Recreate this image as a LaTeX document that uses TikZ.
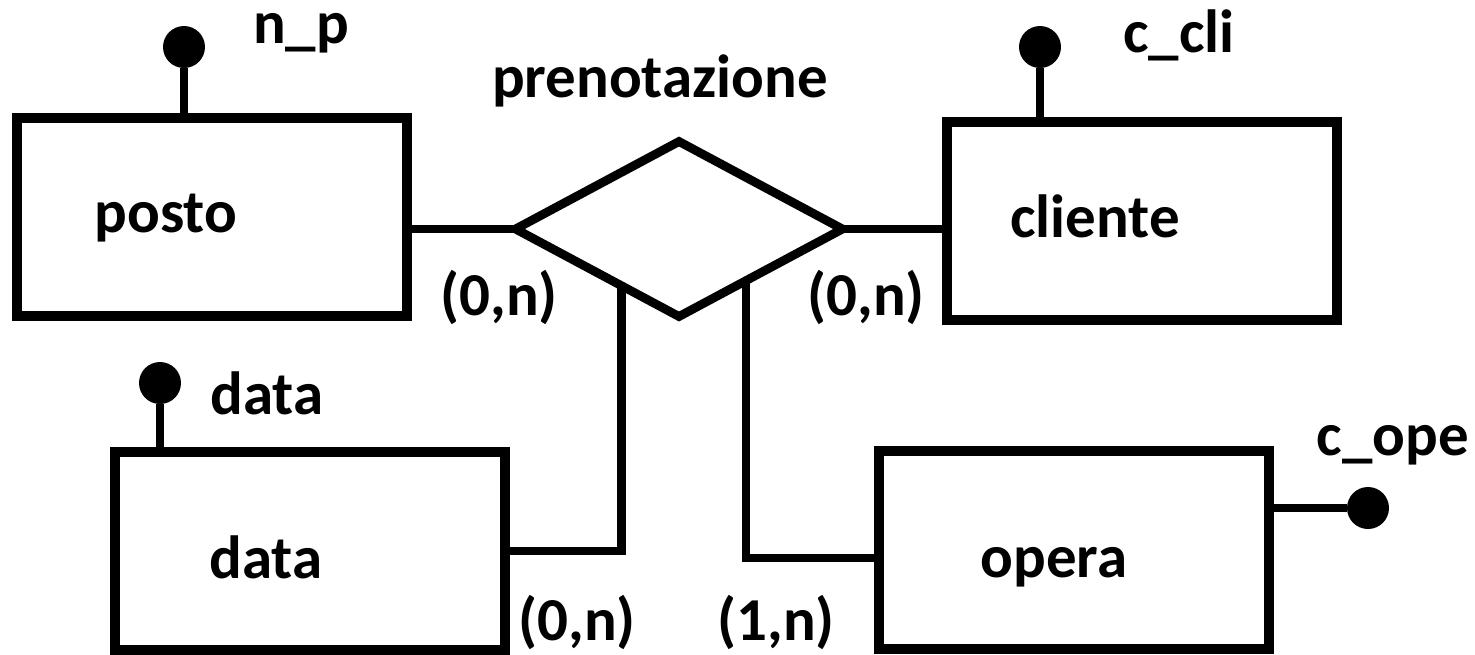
\documentclass[tikz,border=0pt]{standalone}
\usepackage{fontspec}
\setmainfont{Carlito}
\usetikzlibrary{shapes.geometric,calc}

\begin{document}
\begin{tikzpicture}[x=0.02cm,y=-0.02cm,
    entity/.style={draw, line width=5.7pt, minimum width=7.8cm, minimum height=3.96cm, inner sep=0pt, outer sep=0pt},
    relship/.style={draw, diamond, line width=5pt, minimum width=6.54cm, minimum height=3.5cm, inner sep=0pt, outer sep=0pt},
    keydot/.style={circle, fill, minimum size=0.84cm, inner sep=0pt},
    lab/.style={anchor=base, font=\fontsize{34.7}{40}\selectfont\bfseries, inner sep=0pt},
    link/.style={line width=5pt}]
%
         \useasboundingbox (0,0) rectangle (1475,654);

         \node [entity] (posto)   at (212,217)  {};
         \node [entity] (cliente) at (1142,221) {};
         \node [entity] (data)    at (310,551)  {};
         \node [entity] (opera)   at (1074,550) {};
         \node [relship] (pren)   at (679,229)  {};

         \node [keydot] (np)    at (184,47)   {};
         \node [keydot] (ccli)  at (1040,47)  {};
         \node [keydot] (kdata) at (160,383)  {};
         \node [keydot] (cope)  at (1368,508) {};

         \node [lab] (postoT)   at (166,232)  {posto};
         \node [lab] (clienteT) at (1095,237) {cliente};
         \node [lab] (dataT)    at (266,578)  {data};
         \node [lab] (operaT)   at (1054,577) {opera};
         \node [lab] (prenT)    at (660,97)   {prenotazione};
         \node [lab] (npT)      at (301,43)   {n\_p};
         \node [lab] (ccliT)    at (1179,52)  {c\_cli};
         \node [lab] (kdataT)   at (267,414)  {data};
         \node [lab] (copeT)    at (1393,455) {c\_ope};

         \node [lab] (cardA) at (499,315) {(0,n)};
         \node [lab] (cardB) at (866,315) {(0,n)};
         \node [lab] (cardC) at (577,640) {(0,n)};
         \node [lab] (cardD) at (776,640) {(1,n)};

         \coordinate (pl) at ($(pren.west)!0.65!(pren.south)$);
         \coordinate (pr) at ($(pren.east)!0.59!(pren.south)$);

         \draw [link] (pren.west) -- (pren.west -| posto.east);
         \draw [link] (pren.east) -- (pren.east -| cliente.west);
         \draw [link] (pl) |- (data.east);
         \draw [link] (pr) |- ([yshift=-0.16cm]opera.west);

         \draw [link] (np |- posto.north) -- (np);
         \draw [link] (ccli |- cliente.north) -- (ccli);
         \draw [link] (kdata |- data.north) -- (kdata);
         \draw [link] (cope -| opera.east) -- (cope);

        \end{tikzpicture}
\end{document}
